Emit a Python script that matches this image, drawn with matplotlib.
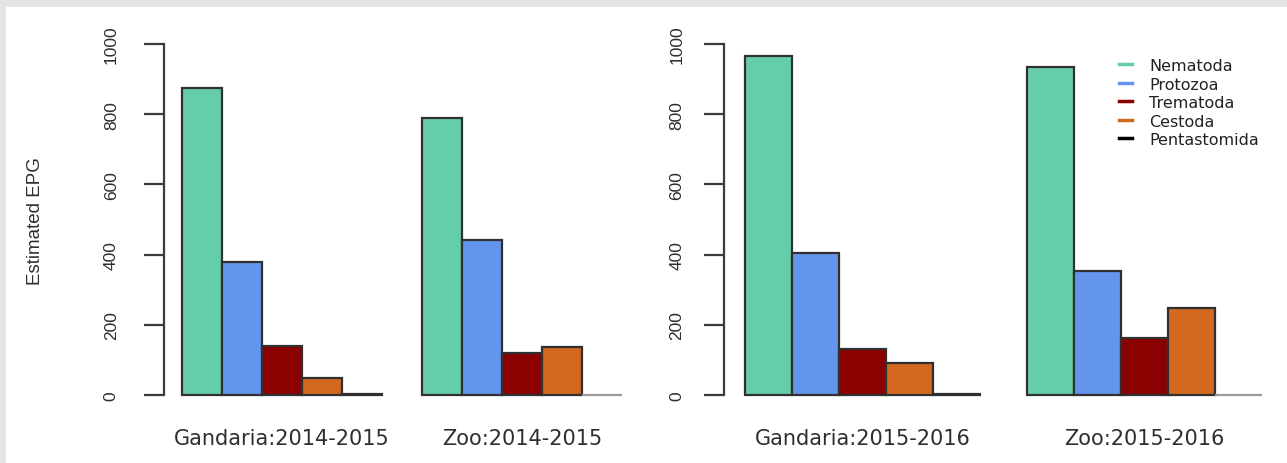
import matplotlib
matplotlib.use("Agg")
import matplotlib.pyplot as plt
from matplotlib.patches import Rectangle
from matplotlib.lines import Line2D
import numpy as np

# Parasite groups (legend order) and their colours
parasites = ["Nematoda", "Protozoa", "Trematoda", "Cestoda", "Pentastomida"]
colors = ["#66CDAA", "#6495ED", "#8B0000", "#D2691E", "#000000"]

# Panel 1: 2014-2015
sites_2014 = ["Gandaria:2014-2015", "Zoo:2014-2015"]
gandaria_2014 = [875, 380, 140, 48, 4]
zoo_2014 = [789, 441, 120, 137, 0]

# Panel 2: 2015-2016
sites_2015 = ["Gandaria:2015-2016", "Zoo:2015-2016"]
gandaria_2015 = [966, 404, 131, 91, 3]
zoo_2015 = [934, 353, 162, 248, 0]

yticks = [0, 200, 400, 600, 800, 1000]

W, H = 1287, 464
fig = plt.figure(figsize=(W / 100, H / 100), dpi=100)
fig.patch.set_facecolor("#e4e4e4")
fig.patches.append(Rectangle((6 / W, 0), 1, 1 - 8 / H, transform=fig.transFigure,
                             facecolor="white", edgecolor="none", zorder=-10))

sans = "Liberation Sans"
wide = "DejaVu Sans"


def px_axes(x0, x1, ytop=45, ybot=396):
    return fig.add_axes([x0 / W, 1 - ybot / H, (x1 - x0) / W, (ybot - ytop) / H])


def grouped_bars(ax, groups, labels, ypad):
    n = len(parasites)
    centers = []
    for g, vals in enumerate(groups):
        start = 1 + g * (n + 1)
        for k, v in enumerate(vals):
            ec = "#303030" if v > 0 else "#9a9a9a"
            ax.bar(start + k, v, width=1.0, align="edge", color=colors[k],
                   edgecolor=ec, linewidth=1.6, clip_on=False)
        centers.append(start + n / 2)
    span = len(groups) * (n + 1) - 1
    ax.set_xlim(1 - 0.04 * span, 1 + span + 0.04 * span)
    ax.set_ylim(0, 1000)
    ax.set_facecolor("none")
    for s in ["top", "right", "bottom"]:
        ax.spines[s].set_visible(False)
    ax.spines["left"].set_bounds(0, 1000)
    ax.spines["left"].set_color("#3c3c3c")
    ax.spines["left"].set_linewidth(1.6)
    ax.set_yticks(yticks)
    ax.set_yticklabels([str(t) for t in yticks], rotation=90, va="center",
                       fontfamily=sans, fontsize=12.5, color="#2e2e2e")
    ax.tick_params(axis="y", direction="out", length=14.5, width=1.6,
                   color="#3c3c3c", pad=ypad)
    ax.set_xticks(centers)
    ax.set_xticklabels(labels, fontfamily=wide, fontsize=15, color="#2e2e2e")
    ax.tick_params(axis="x", length=0, pad=24)


ax1 = px_axes(164, 640)
grouped_bars(ax1, [gandaria_2014, zoo_2014], sites_2014, ypad=18)

ax2 = px_axes(724, 1283)
grouped_bars(ax2, [gandaria_2015, zoo_2015], sites_2015, ypad=14)

fig.text(35 / W, 1 - 221 / H, "Estimated EPG", rotation=90, ha="center",
         va="center", fontfamily=sans, fontsize=13.5, color="#2e2e2e")

handles = [Line2D([], [], color=c, linewidth=2.5) for c in colors]
leg = fig.legend(handles, parasites, loc="upper left",
                 bbox_to_anchor=(1119 / W, 1 - 59 / H),
                 frameon=False, borderpad=0, borderaxespad=0,
                 handlelength=0.8, handletextpad=1.1, labelspacing=0.22,
                 prop={"family": wide, "size": 11.5})
for t in leg.get_texts():
    t.set_color("#222222")

fig.savefig("out.png", dpi=100, facecolor=fig.get_facecolor())
